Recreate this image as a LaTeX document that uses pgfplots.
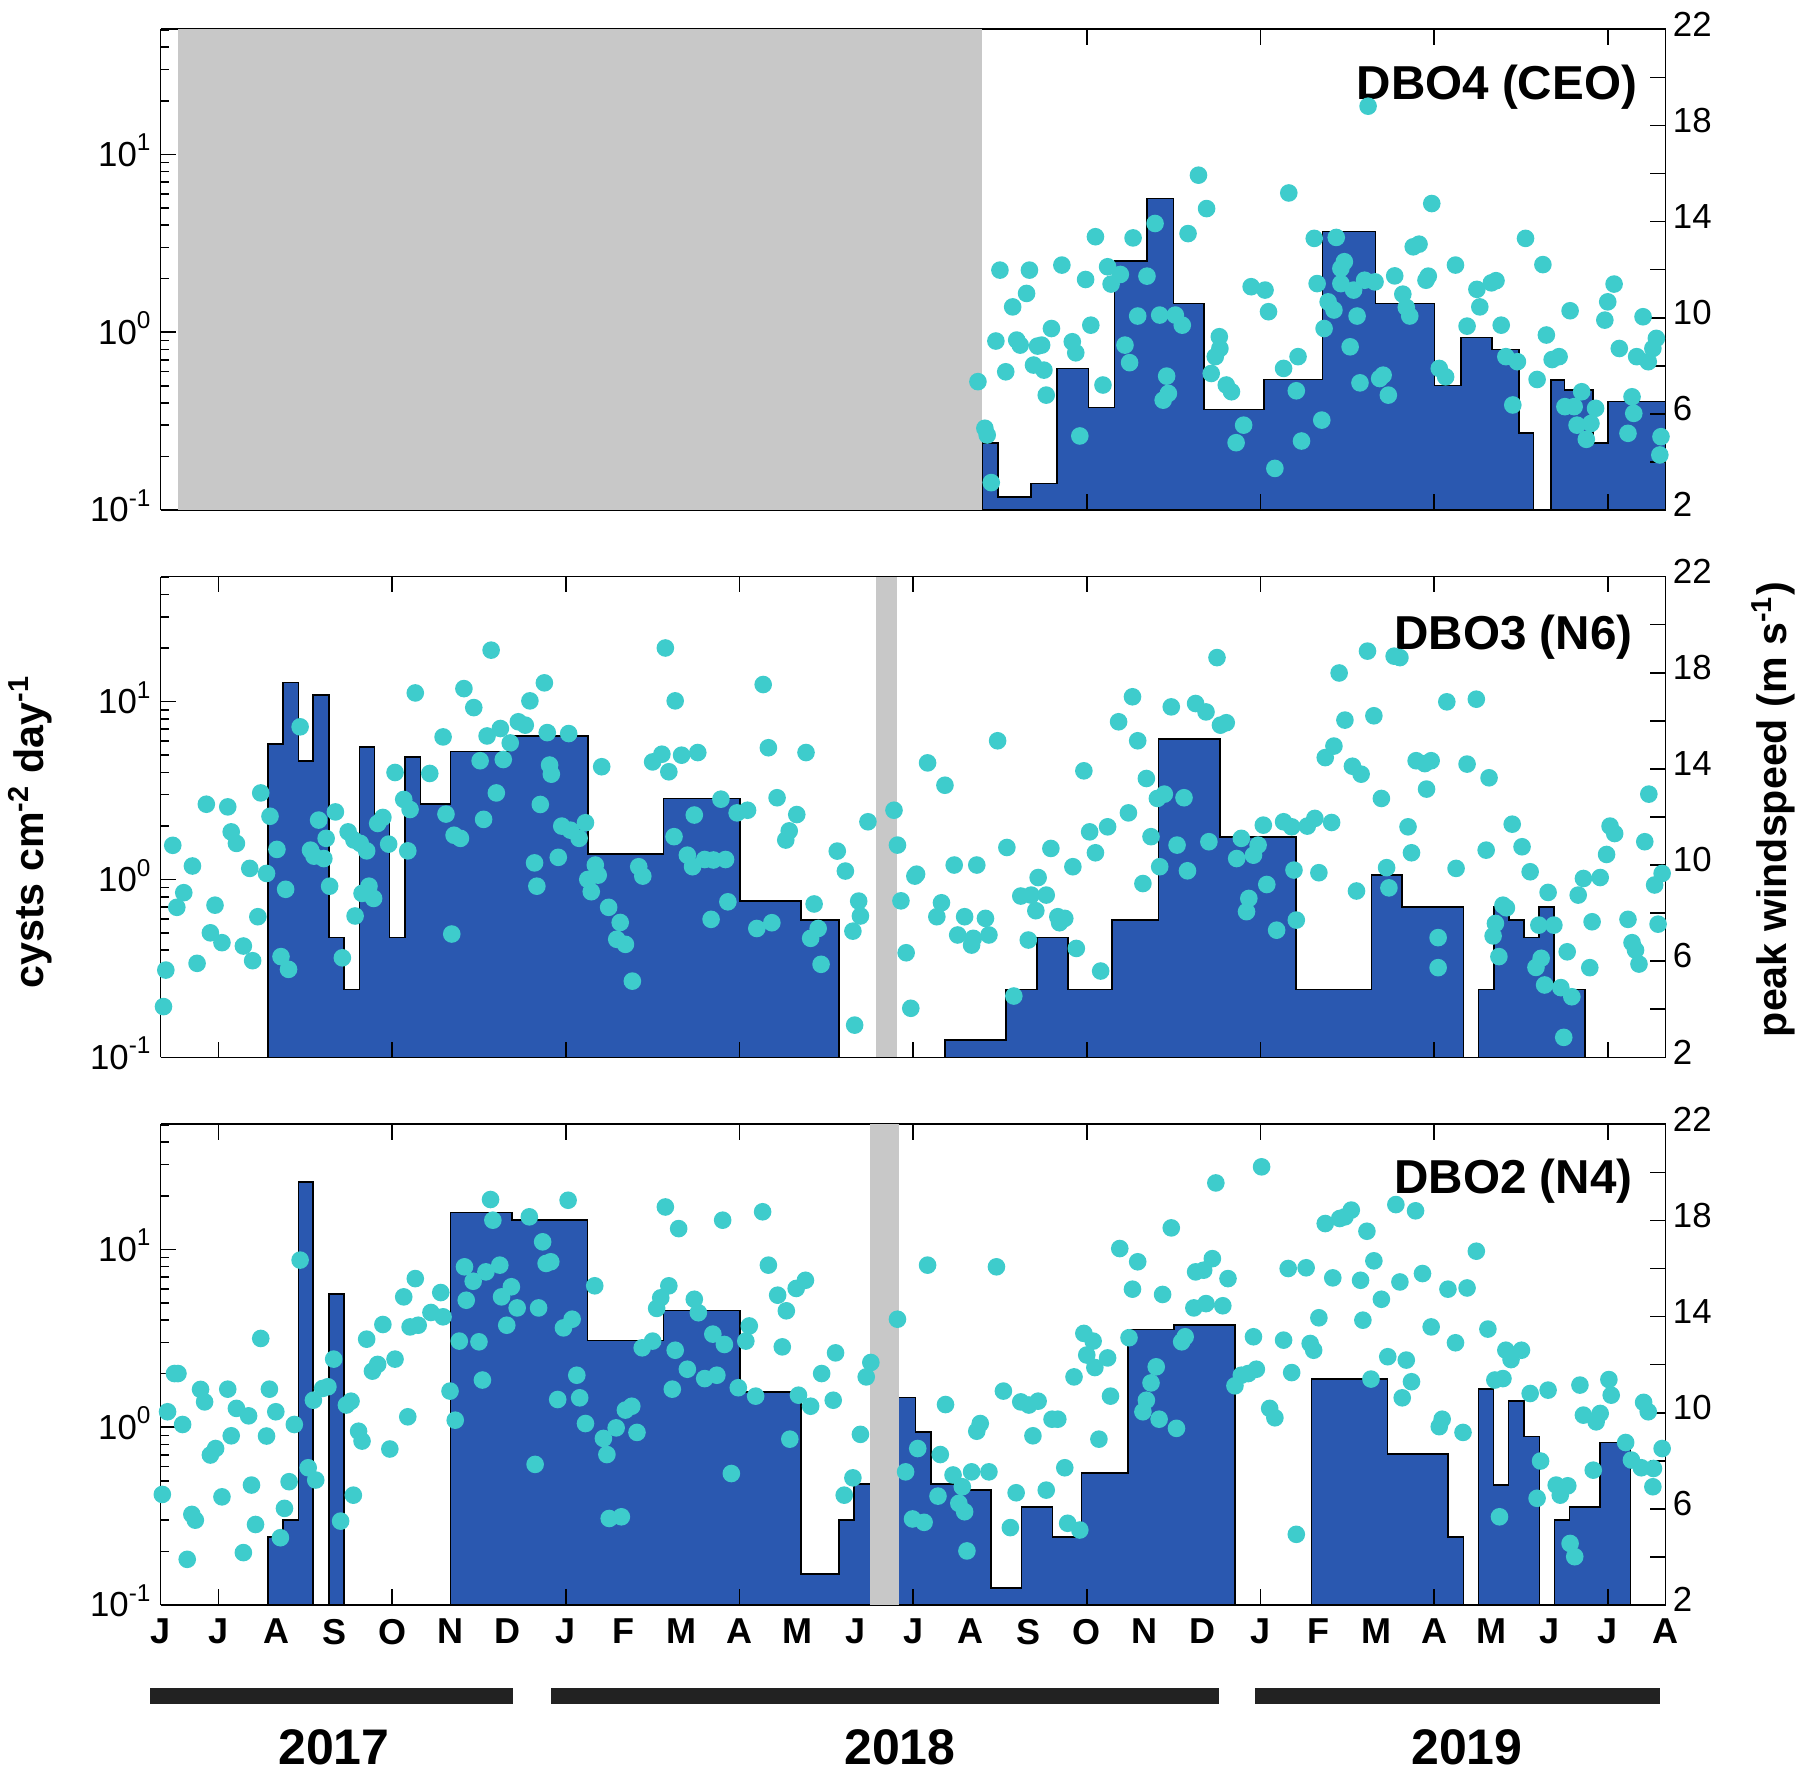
\documentclass[border=0pt]{standalone}
\usepackage{fontspec}
\setmainfont{Liberation Sans}
\usepackage{pgfplots}
\pgfplotsset{compat=1.18}
\definecolor{barblue}{RGB}{42,88,176}
\definecolor{dotcyan}{RGB}{62,204,204}
\definecolor{graybox}{RGB}{200,200,200}
\definecolor{yearbar}{RGB}{34,34,34}
\newcommand\tickfont{\fontsize{8.7}{10}\selectfont}
\newcommand\monthfont{\bfseries\fontsize{9}{10}\selectfont}
\pgfplotsset{
  cmnbase/.style={scale only axis, width=376.25pt, height=120.18pt,
    xmin=0, xmax=26, clip=true, axis line style={line width=0.4pt},
    tick style={line width=0.4pt, black}, tick align=inside,
    major tick length=3.9pt, minor tick length=2pt,
    tick label style={font=\tickfont}},
  leftax/.style={cmnbase, ymin=0.1, ymax=50.5,
    axis x line=box, axis y line*=left,
    xtick={1,4,...,25}, xticklabels={},
    ytick={0.1,1,10}, yticklabels={10\textsuperscript{-1},10\textsuperscript{0},10\textsuperscript{1}},
    yticklabel style={xshift=1.5pt, yshift=1pt},
    minor ytick={0.2,0.3,0.4,0.5,0.6,0.7,0.8,0.9,2,3,4,5,6,7,8,9,20,30,40,50},
    axis on top},
  rightax/.style={cmnbase, ymin=2, ymax=22, axis y line*=right,
    ytick={2,6,...,22}, yticklabels={2,6,10,14,18,22},
    yticklabel style={xshift=-1.7pt, yshift=1.3pt},
    extra y ticks={4,8,...,20}, extra y tick labels={},
    axis on top},
  stepbars/.style={const plot, fill=barblue, draw=black, line width=0.4pt},
  winddots/.style={only marks, mark=*, mark size=2pt, color=dotcyan, mark options={fill=dotcyan, draw=none}},
  grayband/.style={fill=graybox, draw=none, mark=none},
}
\tikzset{paneltitle/.style={anchor=east, inner sep=0pt, font=\bfseries\fontsize{11.9}{13}\selectfont}}
\begin{document}
\begin{tikzpicture}
\useasboundingbox (0pt,0pt) rectangle (450pt,-443.75pt);

% ---------------- Panel 1: DBO4 (CEO)
\begin{axis}[ymode=log, leftax, at={(40.15pt,-127.5pt)}, anchor=south west]
\addplot[stepbars] coordinates {
(14.19,0.1)(14.19,0.239)(14.47,0.118)(15.04,0.141)(15.49,0.624)(16.03,0.377)(16.48,2.52)
(17.04,5.66)(17.50,1.45)(18.03,0.368)(19.06,0.543)(20.07,3.69)(20.99,1.45)(22.01,0.502)
(22.47,0.931)(23.00,0.80)(23.47,0.272)(23.72,0.1)(24.02,0.538)(24.25,0.473)(24.75,0.239)
(25.00,0.407)(26.0,0.407)(26.0,0.1)};
\end{axis}
\begin{axis}[rightax, at={(40.15pt,-127.5pt)}, anchor=south west, axis x line=none]
\addplot[winddots] coordinates {
(14.12,7.34)(14.24,5.40)(14.28,5.12)(14.35,3.14)(14.43,9.03)(14.50,11.98)(14.60,7.75)(14.72,10.45)
(14.79,9.07)(14.85,8.86)(14.96,11.01)(15.01,11.98)(15.08,8.03)(15.15,8.82)(15.22,8.86)(15.26,7.82)
(15.30,6.78)(15.39,9.55)(15.57,12.19)(15.75,9.0)(15.81,8.54)(15.88,5.08)(15.98,11.59)(16.07,9.69)
(16.15,13.37)(16.28,7.20)(16.36,12.12)(16.42,11.40)(16.58,11.80)(16.66,8.86)(16.74,8.13)(16.80,13.32)
(16.88,10.07)(17.04,11.73)(17.18,13.92)(17.26,10.11)(17.32,6.57)(17.38,7.57)(17.41,6.85)(17.53,10.11)
(17.65,9.69)(17.75,13.50)(17.93,15.93)(18.07,14.54)(18.15,7.68)(18.22,8.38)(18.29,9.21)(18.30,8.72)
(18.41,7.20)(18.50,6.92)(18.58,4.80)(18.71,5.53)(18.84,11.29)(19.08,11.15)(19.14,10.25)(19.25,3.73)
(19.40,7.89)(19.49,15.19)(19.62,6.96)(19.65,8.38)(19.71,4.87)(19.93,13.30)(19.98,11.42)(20.06,5.74)
(20.10,9.55)(20.17,10.66)(20.27,10.32)(20.31,13.34)(20.39,12.05)(20.45,12.33)(20.39,11.42)(20.55,8.79)
(20.61,11.15)(20.67,10.07)(20.72,7.29)(20.80,11.56)(20.86,18.80)(20.98,11.49)(21.06,7.47)(21.12,7.61)
(21.21,6.78)(21.32,11.74)(21.46,10.98)(21.52,10.43)(21.58,10.07)(21.64,12.95)(21.74,13.06)(21.86,11.56)
(21.90,11.73)(21.96,14.75)(22.09,7.89)(22.20,7.54)(22.37,12.19)(22.57,9.65)(22.74,11.18)(22.79,10.45)
(22.99,11.45)(23.07,11.54)(23.16,9.69)(23.24,8.38)(23.36,6.37)(23.44,8.17)(23.58,13.30)(23.78,7.43)
(23.88,12.21)(23.94,9.28)(24.04,8.26)(24.16,8.38)(24.26,6.30)(24.35,10.29)(24.42,6.30)(24.47,5.53)
(24.55,6.92)(24.63,4.94)(24.71,5.60)(24.79,6.23)(24.95,9.90)(25.00,10.66)(25.11,11.40)(25.20,8.72)
(25.35,5.19)(25.42,6.71)(25.45,6.02)(25.50,8.38)(25.61,10.04)(25.70,8.17)(25.78,8.72)(25.84,9.14)
(25.92,5.05)(25.90,4.29)};
\addplot[grayband] coordinates {(0.30,2)(14.19,2)(14.19,22)(0.30,22)};
\node[paneltitle] at (rel axis cs:0.9815,0.879) {DBO4 (CEO)};
\end{axis}

% ---------------- Panel 2: DBO3 (N6)
\begin{axis}[ymode=log, leftax, at={(40.15pt,-264.33pt)}, anchor=south west]
\addplot[stepbars] coordinates {
(0.30,0.1)(1.857,0.1)(1.857,5.78)(2.113,12.85)(2.380,4.64)(2.636,10.9)(2.904,0.471)(3.166,0.241)
(3.434,5.55)(3.695,2.33)(3.957,0.471)(4.225,4.87)(4.492,2.65)(5.01,5.24)(6.04,6.41)(7.38,1.39)
(8.69,2.85)(10.005,0.757)(11.064,0.590)(11.72,0.1)(13.55,0.125)(14.604,0.241)(15.139,0.471)
(15.674,0.241)(16.436,0.590)(17.24,6.17)(18.297,1.73)(19.61,0.241)(20.92,1.056)(21.45,0.703)
(22.505,0.1)(22.764,0.241)(23.035,0.703)(23.294,0.590)(23.553,0.471)(23.812,0.703)(24.07,0.241)
(24.612,0.1)};
\end{axis}
\begin{axis}[rightax, at={(40.15pt,-264.33pt)}, anchor=south west, axis x line=none]
\addplot[winddots] coordinates {
(0.05,4.11)(0.09,5.63)(0.21,10.82)(0.28,8.24)(0.40,8.85)(0.55,9.96)(0.63,5.91)(0.79,12.53)(0.86,7.18)
(0.94,8.33)(1.06,6.77)(1.16,12.42)(1.22,11.38)(1.31,10.90)(1.43,6.63)(1.54,9.86)(1.59,6.02)(1.68,7.85)
(1.73,13.00)(1.83,9.65)(1.89,12.03)(2.01,10.65)(2.08,6.19)(2.16,8.99)(2.21,5.66)(2.41,15.75)(2.59,10.62)
(2.65,10.37)(2.73,11.87)(2.82,10.27)(2.86,11.11)(2.92,9.12)(3.02,12.21)(3.14,6.14)(3.24,11.38)(3.34,11.04)
(3.36,7.88)(3.45,10.90)(3.48,8.82)(3.56,10.59)(3.60,9.12)(3.68,8.61)(3.75,11.73)(3.84,11.98)(3.94,10.87)
(4.05,13.85)(4.20,12.73)(4.31,12.31)(4.27,10.59)(4.40,17.16)(4.65,13.81)(4.88,15.33)(4.93,12.12)(5.03,7.13)
(5.07,11.24)(5.18,11.11)(5.24,17.34)(5.41,16.55)(5.52,14.34)(5.58,11.90)(5.64,15.37)(5.71,18.94)(5.80,13.00)
(5.87,15.68)(5.92,14.39)(6.04,15.08)(6.18,15.96)(6.30,15.82)(6.38,16.83)(6.46,10.09)(6.50,9.12)(6.56,12.52)
(6.63,17.58)(6.68,15.51)(6.72,14.16)(6.75,13.78)(6.87,10.32)(6.93,11.62)(7.05,15.47)(7.08,11.45)(7.23,11.11)
(7.34,11.76)(7.38,9.40)(7.44,8.89)(7.51,10.00)(7.56,9.58)(7.62,14.09)(7.74,8.24)(7.94,7.61)(7.88,6.91)
(8.03,6.70)(8.15,5.17)(8.26,9.93)(8.33,9.54)(8.50,14.29)(8.66,14.61)(8.72,19.03)(8.78,13.88)(8.89,16.83)
(8.87,11.18)
(9.00,14.57)(9.28,14.68)(9.22,12.08)(9.10,10.41)(9.19,9.93)(9.40,10.23)(9.55,10.21)(9.76,10.23)(9.68,12.74)
(9.96,12.17)(10.14,12.28)(9.80,8.47)(9.51,7.74)(10.30,7.36)(10.56,7.60)(10.41,17.51)(10.50,14.88)(10.65,12.80)
(10.99,12.10)(10.86,11.42)(10.80,11.04)(11.15,14.68)(11.29,8.38)(11.36,7.36)(11.23,6.95)(11.41,5.87)
(11.69,10.58)(11.83,9.75)(12.06,8.50)(12.09,7.88)(11.96,7.25)(11.99,3.34)(12.22,11.80)(12.67,12.28)
(12.73,10.83)(12.79,8.51)(12.88,6.35)(12.96,4.04)(13.03,9.54)(13.06,9.62)(13.25,14.25)(13.55,13.32)
(13.41,7.85)(13.49,8.43)(13.71,10.00)(14.10,10.00)(13.89,7.85)(13.77,7.09)(14.01,6.67)(14.04,6.95)
(14.25,7.78)(14.31,7.09)(14.46,15.17)(14.62,10.73)(14.74,4.55)(14.86,8.71)(15.04,8.75)(15.16,9.48)
(15.12,8.10)(15.30,8.75)(15.38,10.69)(15.50,7.85)(15.62,7.78)(15.53,7.60)(14.99,6.88)(15.76,9.93)
(15.82,6.53)(15.95,13.92)(16.05,11.38)(16.15,10.51)(16.24,5.59)(16.36,11.59)(16.55,15.96)(16.72,12.17)
(16.79,17.00)(16.88,15.17)(17.03,13.60)(17.11,11.18)(16.97,9.23)(17.22,12.77)(17.34,12.95)(17.26,9.93)
(17.46,16.58)(17.56,10.83)(17.68,12.80)(17.74,9.76)(17.88,16.72)
(18.06,16.37)(18.25,18.63)(18.31,15.82)(18.41,15.92)(18.11,10.97)(18.59,10.27)(18.67,11.11)(18.80,8.61)
(18.76,8.06)(18.88,10.41)(18.96,10.83)(19.05,11.66)(19.11,9.19)(19.28,7.29)(19.40,11.80)(19.54,11.59)
(19.58,9.79)(19.62,7.71)(19.81,11.62)(19.94,11.94)(20.01,9.68)(20.12,14.47)(20.23,11.77)(20.27,14.95)
(20.36,17.99)(20.46,16.03)(20.59,14.11)(20.66,8.92)(20.74,13.78)(20.85,18.90)(20.96,16.21)(21.09,12.77)
(21.18,9.89)(21.22,9.05)(21.31,18.69)(21.41,18.63)(21.55,11.59)(21.61,10.51)(21.69,14.34)(21.84,14.22)
(21.95,14.34)(21.87,13.16)(22.07,6.98)(22.07,5.73)(22.22,16.79)(22.38,9.86)(22.57,14.20)(22.73,16.90)
(22.90,10.62)(22.95,13.63)(23.02,7.05)(23.06,7.57)(23.12,6.19)(23.19,8.33)(23.25,8.22)(23.35,11.70)
(23.52,10.76)(23.66,9.72)(23.76,5.74)(23.81,7.50)(23.85,6.12)(23.91,5.01)(23.97,8.86)(24.07,7.50)
(24.19,4.90)(24.24,2.83)(24.30,6.39)(24.38,4.52)(24.49,8.75)(24.58,9.44)(24.69,5.73)(24.73,7.64)
(24.87,9.48)(24.98,10.44)(25.04,11.62)(25.12,11.31)(25.35,7.74)(25.42,6.77)(25.48,6.46)(25.54,5.88)
(25.64,10.97)(25.71,12.95)(25.81,9.17)(25.87,7.54)(25.94,9.65)};
\addplot[grayband] coordinates {(12.36,2)(12.72,2)(12.72,22)(12.36,22)};
\node[paneltitle] at (rel axis cs:0.9785,0.875) {DBO3 (N6)};
\end{axis}

% ---------------- Panel 3: DBO2 (N4)
\begin{axis}[ymode=log, leftax, at={(40.15pt,-401.25pt)}, anchor=south west]
\addplot[stepbars] coordinates {
(0.30,0.1)(1.857,0.1)(1.857,0.242)(2.113,0.301)(2.380,24.0)(2.636,0.1)(2.904,5.61)(3.166,0.1)
(5.01,16.1)(6.069,14.6)(7.377,3.07)(8.69,4.52)(10.005,1.58)(11.064,0.149)(11.718,0.301)
(11.974,0.478)(12.5,1.47)(13.039,0.936)(13.307,0.478)(13.86,0.444)(14.348,0.125)(14.871,0.357)
(15.407,0.242)(15.912,0.551)(16.716,3.55)(17.507,3.76)(18.556,0.1)(19.88,1.87)(21.193,0.706)
(22.24,0.242)(22.505,0.1)(22.77,1.64)(23.029,0.473)(23.288,1.40)(23.553,0.885)(23.824,0.1)
(24.083,0.301)(24.342,0.357)(24.871,0.822)(25.395,0.1)};
\end{axis}
\begin{axis}[rightax, at={(40.15pt,-401.25pt)}, anchor=south west,
  axis x line*=bottom, x axis line style={draw=none}, xtick style={draw=none},
  xtick={0,...,26},
  xticklabels={J,J,A,S,O,N,D,J,F,M,A,M,J,J,A,S,O,N,D,J,F,M,A,M,J,J,A},
  xticklabel style={font=\monthfont}]
\addplot[winddots] coordinates {
(0.03,6.60)(0.12,10.04)(0.24,11.63)(0.30,11.63)(0.38,9.51)(0.46,3.90)(0.54,5.77)(0.60,5.53)(0.69,10.97)
(0.76,10.45)(0.86,8.24)(0.95,8.51)(1.06,6.50)(1.16,10.98)(1.22,9.04)(1.31,10.18)(1.43,4.18)(1.52,9.87)
(1.57,6.99)(1.64,5.35)(1.73,13.09)(1.83,9.03)(1.88,10.98)(1.99,10.04)(2.07,4.80)(2.14,6.02)(2.22,7.13)
(2.31,9.51)(2.41,16.35)(2.55,7.71)(2.64,10.52)(2.68,7.20)(2.80,11.01)(2.89,11.08)(2.99,12.23)(3.11,5.49)
(3.21,10.32)(3.29,10.48)(3.33,6.57)(3.42,9.23)(3.48,8.82)(3.56,13.06)(3.66,11.73)(3.75,12.01)(3.84,13.67)
(3.96,8.49)(4.05,12.23)(4.20,14.82)(4.27,9.83)(4.31,13.57)(4.40,15.58)(4.45,13.64)(4.67,14.17)(4.84,15.00)
(4.88,13.99)(5.00,10.90)(5.09,9.69)(5.16,12.98)(5.25,16.07)(5.28,14.68)(5.40,15.47)(5.50,12.95)(5.56,11.36)
(5.62,15.86)(5.70,18.87)(5.74,18.01)(5.86,16.14)(5.89,14.82)(5.98,13.64)(6.06,15.24)(6.16,14.36)(6.37,18.15)
(6.47,7.85)(6.53,14.36)(6.60,17.11)(6.66,16.21)(6.74,16.28)(6.86,10.55)(6.96,13.53)(7.04,18.84)(7.11,13.89)
(7.19,11.56)(7.24,10.62)(7.34,9.55)(7.50,15.28)(7.65,8.93)(7.71,8.26)(7.75,5.60)(7.87,9.37)(7.96,5.67)
(8.03,10.11)(8.14,10.27)(8.23,9.18)(8.32,12.70)(8.50,12.98)(8.57,14.34)(8.64,14.78)(8.78,15.28)(8.72,18.56)
(8.95,17.66)(8.89,12.60)(8.84,10.98)
(9.22,14.72)(9.29,14.16)(9.71,18.01)(10.40,18.36)(9.10,11.81)(9.40,11.42)(9.61,11.56)(9.54,13.27)(9.74,12.84)
(9.86,7.47)(9.98,11.04)(10.11,12.98)(10.17,13.61)(10.28,10.69)(10.50,16.14)(10.66,14.89)(10.81,14.24)
(10.74,12.74)(10.98,15.17)(11.14,15.51)(10.87,8.90)(11.02,10.73)(11.23,10.27)(11.42,11.63)(11.62,10.52)
(11.66,12.49)(12.09,9.10)(11.96,7.29)(11.81,6.57)(12.19,11.49)(12.27,12.09)(12.73,13.89)(12.87,7.54)
(13.08,8.51)(12.99,5.58)(13.19,5.44)(13.25,16.14)(13.43,6.53)(13.47,8.26)(13.56,10.34)(13.69,7.41)
(13.79,6.23)(13.85,6.92)(13.89,5.88)(13.93,4.25)(14.01,7.54)(14.10,9.23)(14.16,9.55)(14.31,7.54)
(14.44,16.07)(14.56,10.90)(14.68,5.22)(14.78,6.67)(14.86,10.45)(15.00,10.32)(15.16,10.48)(15.07,9.04)
(15.30,6.78)(15.40,9.73)(15.50,9.73)(15.62,7.71)(15.67,5.40)(15.88,5.12)(15.78,11.49)(15.95,13.30)
(16.11,12.98)(16.00,12.40)(16.14,11.88)(16.36,12.28)(16.41,10.69)(16.21,8.90)(16.57,16.83)(16.88,16.28)
(16.79,15.14)(16.73,13.12)(17.20,11.91)(17.11,11.24)(17.03,10.52)(16.97,10.04)(17.25,9.73)(17.31,14.92)
(17.46,17.69)(17.55,9.35)(17.64,12.95)(17.70,13.16)(17.85,14.36)(17.88,15.86)
(18.02,15.93)(18.06,14.54)(18.17,16.41)(18.23,19.56)(18.35,14.45)(18.44,15.58)(18.56,11.12)(18.67,11.56)
(18.79,11.63)(18.93,11.81)(18.88,13.16)(19.02,20.23)(19.16,10.18)(19.25,9.79)(19.40,13.02)(19.48,16.00)
(19.54,11.67)(19.62,4.94)(19.79,16.03)(19.86,12.88)(19.92,12.60)(20.01,13.95)(20.12,17.87)(20.25,15.61)
(20.37,18.08)(20.46,18.15)(20.57,18.43)(20.73,15.51)(20.77,13.85)(20.84,17.55)(20.91,11.40)(20.96,16.32)
(21.09,14.72)(21.20,12.33)(21.34,18.66)(21.41,15.44)(21.45,10.62)(21.52,12.19)(21.61,11.29)(21.68,18.40)
(21.80,15.79)(21.95,13.57)(22.09,9.42)(22.14,9.73)(22.24,15.14)(22.37,12.91)(22.50,9.18)(22.57,15.19)
(22.73,16.72)(22.93,13.48)(23.05,11.36)(23.13,5.67)(23.19,11.42)(23.24,12.60)(23.33,12.21)(23.51,12.60)
(23.66,10.80)(23.78,6.44)(23.84,7.99)(23.97,10.94)(24.11,6.99)(24.18,6.57)(24.31,6.96)(24.35,4.56)
(24.43,4.01)(24.52,11.15)(24.58,9.90)(24.75,7.61)(24.80,9.62)(24.87,9.97)(25.02,11.38)(25.06,10.73)
(25.31,8.76)(25.41,8.03)(25.58,7.71)(25.62,10.43)(25.70,10.04)(25.79,7.68)(25.78,6.92)(25.94,8.51)};
\addplot[grayband] coordinates {(12.25,2)(12.76,2)(12.76,22)(12.25,22)};
\node[paneltitle] at (rel axis cs:0.9785,0.881) {DBO2 (N4)};
\end{axis}

% ---------------- axis titles and year bars
\node[rotate=90, font=\bfseries\fontsize{10.3}{12}\selectfont] at (7.6pt,-207.9pt) {cysts cm\textsuperscript{-2} day\textsuperscript{-1}};
\node[rotate=90, font=\bfseries\fontsize{10.3}{12}\selectfont] at (443.3pt,-202.3pt) {peak windspeed (m s\textsuperscript{-1})};
\fill[yearbar] (37.6pt,-422pt) rectangle (128.3pt,-426.1pt);
\fill[yearbar] (137.75pt,-422pt) rectangle (304.8pt,-426.1pt);
\fill[yearbar] (313.7pt,-422pt) rectangle (415pt,-426.1pt);
\node[font=\bfseries\fontsize{12.5}{14}\selectfont] at (83.5pt,-436.9pt) {2017};
\node[font=\bfseries\fontsize{12.5}{14}\selectfont] at (225pt,-436.9pt) {2018};
\node[font=\bfseries\fontsize{12.5}{14}\selectfont] at (366.75pt,-436.9pt) {2019};
\end{tikzpicture}
\end{document}
